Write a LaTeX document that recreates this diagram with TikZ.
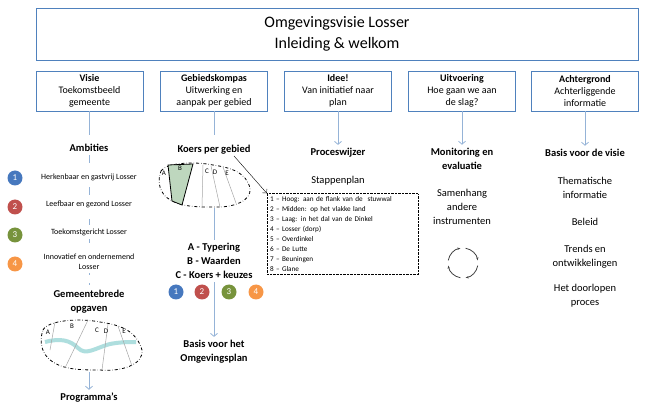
\documentclass[tikz,border=0pt]{standalone}
\usepackage{fontspec}
\setmainfont{Carlito}
\usetikzlibrary{arrows.meta, calc}

\definecolor{boxblue}{RGB}{79,129,189}
\definecolor{lineblue}{RGB}{149,179,215}
\definecolor{nrblue}{RGB}{70,120,190}
\definecolor{nrred}{RGB}{192,80,77}
\definecolor{nrgreen}{RGB}{119,147,60}
\definecolor{nrorange}{RGB}{247,150,70}
\definecolor{mapgreen}{RGB}{190,215,190}
\definecolor{riverteal}{RGB}{120,200,200}

\tikzset{
  colbox/.style={draw=boxblue, thick, minimum width=107pt, minimum height=40pt, align=center, font=\fontsize{10}{12}\selectfont},
  head/.style={font=\bfseries\fontsize{10.5}{14}\selectfont, align=center},
  txt/.style={font=\fontsize{10.5}{14}\selectfont, align=center},
  small/.style={font=\fontsize{8}{11}\selectfont, align=center},
  nr/.style={circle, fill=#1, text=white, inner sep=0pt, minimum size=15pt, font=\fontsize{9}{9}\selectfont},
  flow/.style={draw=lineblue, thick, -{Straight Barb[length=3pt,width=7pt]}},
  plain/.style={draw=lineblue, thick},
  mapline/.style={draw=gray!70, line width=0.5pt}
}

\begin{document}
\begin{tikzpicture}[x=1pt, y=-1pt]
  \useasboundingbox (0,0) rectangle (658,411);

  % Title
  \node[draw=boxblue, thick, minimum width=602pt, minimum height=52pt, align=center,
        font=\fontsize{16}{21}\selectfont] (title) at (337,34)
        {Omgevingsvisie Losser\\Inleiding \& welkom};

  % Column boxes
  \node[colbox] (visie) at (89.5,91) {\textbf{Visie}\\Toekomstbeeld\\gemeente};
  \node[colbox] (kompas) at (214,91) {\textbf{Gebiedskompas}\\Uitwerking en\\aanpak per gebied};
  \node[colbox] (idee) at (338,91) {\textbf{Idee!}\\Van initiatief\ naar\\plan};
  \node[colbox] (uitv) at (462,91) {\textbf{Uitvoering}\\Hoe gaan we aan\\de slag?};
  \node[colbox] (achter) at (585,91) {\textbf{Achtergrond}\\Achterliggende\\informatie};

  % Column 1: Visie
  \node[head] (ambities) at (89,148) {Ambities};
  \draw[plain] (visie.south) -- ++(0,24);
  \draw[plain, dash pattern=on 8pt off 8pt] (ambities.south) -- (89,285);
  \node[nr=nrblue] (n1) at (15,178) {1};
  \node[nr=nrred] (n2) at (15,207) {2};
  \node[nr=nrgreen] (n3) at (15,235) {3};
  \node[nr=nrorange] (n4) at (15,264) {4};
  \node[small, fill=white] (a1) at (89,177) {Herkenbaar en gastvrij Losser};
  \node[small, fill=white] (a2) at (89,204) {Leefbaar en gezond Losser};
  \node[small, fill=white] (a3) at (89,232) {Toekomstgericht Losser};
  \node[small, fill=white, font=\fontsize{8}{10}\selectfont] (a4) at (89,262) {Innovatief en ondernemend\\Losser};
  \node[head, fill=white] (opgaven) at (89,302) {Gemeentebrede\\opgaven};

  % map with river
  \begin{scope}[shift={(40,320)}]
    \draw[dash dot, thick, fill=white] (3,10) .. controls (8,0) and (40,-2) .. (60,2)
      .. controls (80,5) and (96,10) .. (102,30) .. controls (104,45) and (80,52) .. (60,50)
      .. controls (40,50) and (20,50) .. (8,38) .. controls (0,30) and (0,18) .. (3,10) -- cycle;
    \draw[riverteal, line width=4pt, opacity=0.6] (5,22) .. controls (20,18) and (30,20) .. (38,28)
      .. controls (46,36) and (55,28) .. (70,24) .. controls (80,22) and (90,22) .. (96,22);
    \draw[mapline] (15,2) -- (10,30);
    \draw[mapline] (48,0) -- (25,48);
    \draw[mapline] (68,4) -- (62,50);
    \draw[mapline] (78,6) -- (92,46);
    \node[font=\fontsize{7}{7}\selectfont] at (8,12) {A};
    \node[font=\fontsize{7}{7}\selectfont] at (32,6) {B};
    \node[font=\fontsize{7}{7}\selectfont] at (57,10) {C};
    \node[font=\fontsize{7}{7}\selectfont] at (66,11) {D};
    \node[font=\fontsize{7}{7}\selectfont] at (84,11) {E};
  \end{scope}
  \coordinate (map1) at (89,372);
  \node[head] (progr) at (89,398) {Programma's};
  \draw[flow] (map1) -- (progr.north);

  % Column 2: Gebiedskompas
  \node[head] (koers) at (214,150) {Koers per gebied};
  \draw[plain] (kompas.south) -- ++(0,24);
  \coordinate (map2) at (214,208);
  \node[head] (basisplan) at (214,352) {Basis voor het\\Omgevingsplan};
  \draw[flow] (map2) -- (basisplan.north);
  \begin{scope}[shift={(158,163)}]
    \draw[dash dot, thick, fill=white] (3,8) .. controls (8,0) and (35,-2) .. (55,2)
      .. controls (75,5) and (88,10) .. (92,25) .. controls (94,38) and (75,45) .. (55,44)
      .. controls (38,44) and (20,44) .. (8,34) .. controls (0,26) and (0,16) .. (3,8) -- cycle;
    \draw[thick, fill=mapgreen] (10,2) -- (35,1) -- (24,42) -- (14,38) -- cycle;
    \draw[mapline] (45,2) -- (44,45);
    \draw[mapline] (53,3) -- (62,44);
    \draw[mapline] (65,4) -- (78,40);
    \node[font=\fontsize{7}{7}\selectfont] at (6,10) {A};
    \node[font=\fontsize{7}{7}\selectfont] at (22,5) {B};
    \node[font=\fontsize{7}{7}\selectfont] at (49,8) {C};
    \node[font=\fontsize{7}{7}\selectfont] at (57,9) {D};
    \node[font=\fontsize{7}{7}\selectfont] at (69,10) {E};
  \end{scope}
  \node[head, fill=white] (typering) at (214,261) {A - Typering\\B - Waarden\\C - Koers + keuzes};
  \node[nr=nrblue] (m1) at (176,292) {1};
  \node[nr=nrred] (m2) at (202,292) {2};
  \node[nr=nrgreen] (m3) at (229,292) {3};
  \node[nr=nrorange] (m4) at (256,292) {4};

  % Column 3: Idee
  \node[head] (proces) at (338,153) {Proceswijzer};
  \draw[flow] (idee.south) -- (proces.north);
  \node[txt] (stappen) at (338,181) {Stappenplan};
  \node[draw, densely dotted, align=left, inner sep=3pt, text width=145pt,
        font=\fontsize{7.2}{10}\selectfont] (lijst) at (342.5,234) {%
    1 -- Hoog: aan de flank van de\ \ stuwwal\\
    2 -- Midden: op het vlakke land\\
    3 -- Laag: in het dal van de Dinkel\\
    4 -- Losser (dorp)\\
    5 -- Overdinkel\\
    6 -- De Lutte\\
    7 -- Beuningen\\
    8 -- Glane};
  \draw[-{Straight Barb[length=3pt]}, thin] ($(koers.east)+(-20,6)$) -- (lijst.north west);

  % Column 4: Uitvoering
  \node[head] (monitor) at (462,159) {Monitoring en\\evaluatie};
  \draw[flow] (uitv.south) -- (monitor.north);
  \node[txt] (samen) at (462,207) {Samenhang\\andere\\instrumenten};
  \coordinate (cyc) at (463,263);
  \begin{scope}[shift={(cyc)}]
    \foreach \a in {10,100,190,280}
      \draw[-{Stealth[length=3pt]}, thick, black!75] (\a:15) arc[start angle=\a, end angle=\a+70, radius=15];
  \end{scope}

  % Column 5: Achtergrond
  \node[head] (basisvisie) at (585,153) {Basis voor de visie};
  \draw[flow] (achter.south) -- (basisvisie.north);
  \node[txt] (them) at (585,188) {Thematische\\informatie};
  \node[txt] (beleid) at (585,222) {Beleid};
  \node[txt] (trends) at (585,257) {Trends en\\ontwikkelingen};
  \node[txt] (proc) at (585,296) {Het doorlopen\\proces};
\end{tikzpicture}
\end{document}
